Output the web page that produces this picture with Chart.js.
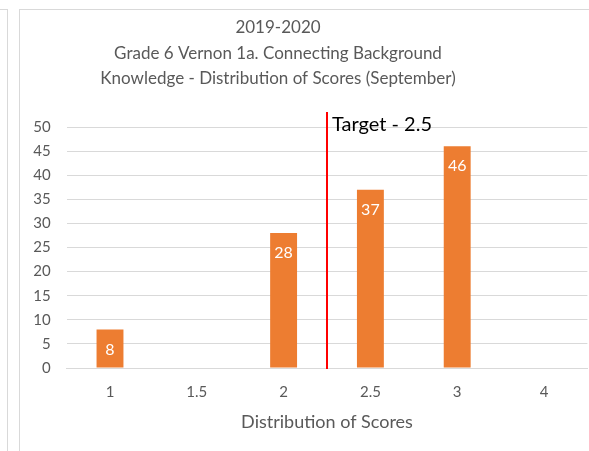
<!DOCTYPE html>
<html lang="en">
<head>
    <meta charset="UTF-8">
    <title>Distribution of Scores (September)</title>
    <script src="https://cdn.jsdelivr.net/npm/chart.js"></script>
    <style>
        body { margin: 0; background: #fff; }
        .frame { position: absolute; border: 1px solid #d9d9d9; }
        #chartBox { position: absolute; left: 0; top: 0; width: 589px; height: 451px; }
    </style>
</head>
<body>
    <div class="frame" style="left:-2px; top:9px; width:9px; height:460px; border-left:none;"></div>
    <div class="frame" style="left:19px; top:9px; width:620px; height:460px;"></div>
    <div id="chartBox"><canvas id="scoresChart" width="589" height="451"></canvas></div>

    <script>
        // Dati del grafico
        const titleLines = [
            '2019-2020',
            'Grade 6 Vernon 1a. Connecting Background',
            'Knowledge - Distribution of Scores (September)'
        ];
        const scoreLabels = ['1', '1.5', '2', '2.5', '3', '4'];
        const scoreCounts = [8, 0, 28, 37, 46, 0];
        const yTicks = [0, 5, 10, 15, 20, 25, 30, 35, 40, 45, 50];
        const targetText = 'Target - 2.5';
        const targetIndex = 2.5; // linea rossa tra "2" e "2.5"

        const textColor = '#595959';
        const fontFamily = 'Lato, "Open Sans", sans-serif';

        // Titolo su tre righe
        const titlePlugin = {
            id: 'titleLines',
            afterDraw(chart) {
                const ctx = chart.ctx;
                ctx.save();
                ctx.fillStyle = textColor;
                ctx.font = '17px ' + fontFamily;
                ctx.textAlign = 'center';
                ctx.textBaseline = 'middle';
                titleLines.forEach((line, i) => ctx.fillText(line, 278, 28 + i * 25.5));
                ctx.restore();
            }
        };

        // Linea del target
        const targetPlugin = {
            id: 'targetLine',
            afterDatasetsDraw(chart) {
                const ctx = chart.ctx;
                const x = chart.scales.x.getPixelForValue(targetIndex);
                const area = chart.chartArea;
                ctx.save();
                ctx.strokeStyle = '#ff0000';
                ctx.lineWidth = 2;
                ctx.beginPath();
                ctx.moveTo(x, area.top - 15);
                ctx.lineTo(x, area.bottom + 1);
                ctx.stroke();
                ctx.fillStyle = '#000';
                ctx.font = '20px ' + fontFamily;
                ctx.textAlign = 'left';
                ctx.textBaseline = 'middle';
                ctx.fillText(targetText, x + 5, area.top - 2);
                ctx.restore();
            }
        };

        // Etichette dei valori dentro le barre
        const valueLabelPlugin = {
            id: 'valueLabels',
            afterDatasetsDraw(chart) {
                const ctx = chart.ctx;
                const meta = chart.getDatasetMeta(0);
                ctx.save();
                ctx.fillStyle = '#fff';
                ctx.font = '16px ' + fontFamily;
                ctx.textAlign = 'center';
                ctx.textBaseline = 'middle';
                meta.data.forEach((bar, i) => {
                    if (scoreCounts[i] === 0) return;
                    ctx.fillText(String(scoreCounts[i]), bar.x, bar.y + 20);
                });
                ctx.restore();
            }
        };

        const ctx = document.getElementById('scoresChart').getContext('2d');
        const scoresChart = new Chart(ctx, {
            type: 'bar',
            data: {
                labels: scoreLabels,
                datasets: [{
                    data: scoreCounts,
                    backgroundColor: '#ed7d31',
                    borderWidth: 0,
                    barPercentage: 0.62,
                    categoryPercentage: 0.5
                }]
            },
            options: {
                responsive: false,
                animation: false,
                layout: { padding: { left: 0, right: 1.6, top: 127, bottom: 0 } },
                plugins: {
                    legend: { display: false },
                    tooltip: { enabled: false }
                },
                scales: {
                    x: {
                        grid: { display: false, drawTicks: false },
                        border: { color: '#d9d9d9' },
                        ticks: { color: textColor, font: { family: fontFamily, size: 15 }, padding: 15 },
                        title: {
                            display: true,
                            text: 'Distribution of Scores',
                            color: textColor,
                            font: { family: fontFamily, size: 18 },
                            padding: { top: 0, bottom: 18.5 }
                        },
                        afterFit(scale) { scale.height = 83; }
                    },
                    y: {
                        min: 0,
                        max: 50,
                        afterBuildTicks(scale) { scale.ticks = yTicks.map(v => ({ value: v })); },
                        grid: { color: '#d9d9d9', drawTicks: false },
                        border: { display: false },
                        ticks: { color: textColor, font: { family: fontFamily, size: 15 }, padding: 16 },
                        afterFit(scale) { scale.width = 66.6; }
                    }
                }
            },
            plugins: [titlePlugin, targetPlugin, valueLabelPlugin]
        });
    </script>
</body>
</html>
